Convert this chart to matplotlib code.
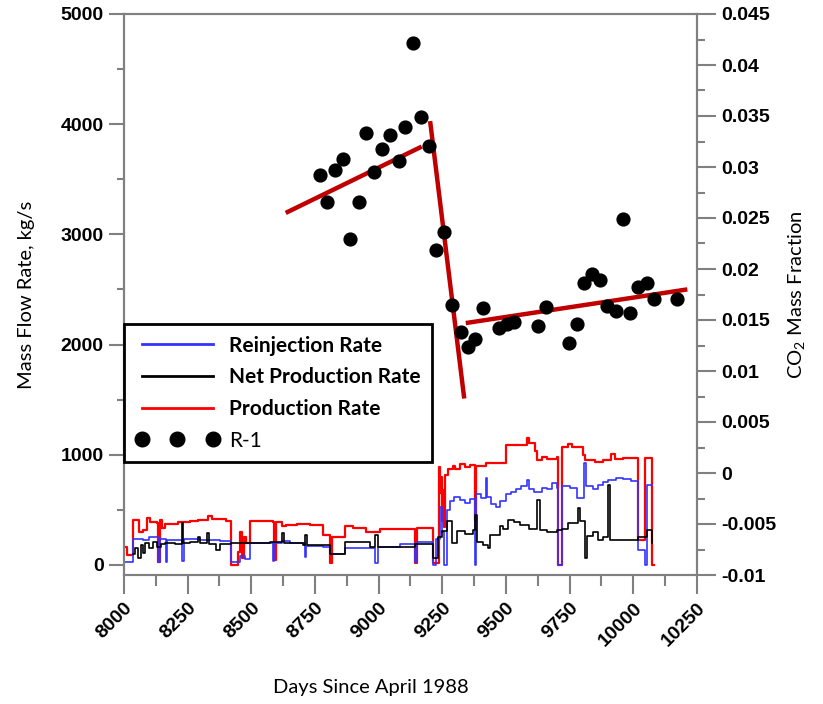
import numpy as np
import matplotlib.pyplot as plt
from matplotlib.ticker import MultipleLocator, FuncFormatter
from matplotlib.lines import Line2D

plt.rcParams['mathtext.default'] = 'regular'

# Production rate (kg/s), step data
prod_days = [8000, 8012, 8035, 8060, 8075, 8090, 8102, 8130, 8134, 8142, 8150, 8161,
             8212, 8260, 8291, 8330, 8345, 8365, 8400, 8420, 8448, 8455, 8462, 8470,
             8480, 8495, 8585, 8589, 8595, 8620, 8635, 8680, 8730, 8781, 8809, 8815,
             8868, 8900, 8950, 9005, 9143, 9150, 9213, 9235, 9240, 9245, 9250, 9253,
             9258, 9262, 9272, 9290, 9300, 9320, 9340, 9360, 9378, 9384, 9420, 9500,
             9583, 9590, 9614, 9622, 9640, 9661, 9700, 9704, 9718, 9744, 9759, 9802,
             9810, 9850, 9880, 9912, 9928, 9960, 10018, 10046, 10073, 10081]
prod_vals = [160, 90, 410, 300, 320, 430, 390, 380, 30, 410, 340, 370,
             390, 395, 410, 440, 420, 420, 395, 0, 120, 300, 60, 250,
             200, 395, 390, 45, 390, 350, 360, 370, 365, 270, 20, 250,
             355, 340, 300, 330, 20, 335, 20, 890, 650, 800, 400, 680,
             345, 820, 870, 900, 870, 920, 890, 910, 400, 900, 925, 1090,
             1155, 1110, 1030, 950, 980, 960, 980, 0, 1070, 1100, 1070, 1000,
             950, 930, 955, 1010, 960, 970, 230, 970, 0, 0]

# Reinjection rate (kg/s)
reinj_days = [8000, 8035, 8075, 8100, 8134, 8140, 8165, 8170, 8228, 8235, 8300, 8377,
              8420, 8455, 8475, 8495, 8585, 8590, 8620, 8650, 8711, 8716, 8781, 8809,
              8868, 8986, 8996, 9084, 9143, 9150, 9213, 9225, 9241, 9250, 9258, 9268,
              9280, 9295, 9320, 9340, 9360, 9378, 9384, 9400, 9420, 9425, 9440, 9460,
              9476, 9500, 9520, 9540, 9560, 9583, 9590, 9610, 9640, 9660, 9680, 9700,
              9704, 9720, 9750, 9779, 9805, 9815, 9840, 9860, 9880, 9901, 9930, 9960,
              9990, 10018, 10046, 10054, 10073]
reinj_vals = [30, 240, 230, 250, 25, 240, 25, 230, 40, 235, 230, 220,
              30, 80, 50, 200, 40, 200, 215, 200, 75, 170, 165, 100,
              150, 20, 165, 190, 30, 210, 0, 240, 530, 300, 0, 500,
              580, 620, 590, 560, 600, 0, 640, 610, 790, 620, 550, 530,
              580, 640, 660, 690, 720, 770, 690, 660, 700, 690, 745, 700,
              0, 720, 700, 610, 925, 720, 690, 730, 750, 770, 790, 780,
              760, 140, 0, 730, 730]

# Net production rate (kg/s)
net_days = [8035, 8043, 8055, 8065, 8075, 8082, 8100, 8115, 8130, 8145, 8160, 8200,
            8228, 8232, 8260, 8290, 8300, 8326, 8335, 8360, 8377, 8420, 8495, 8573,
            8620, 8630, 8703, 8711, 8720, 8809, 8868, 8966, 8986, 8996, 9143, 9213,
            9233, 9250, 9268, 9288, 9308, 9340, 9370, 9378, 9386, 9410, 9429, 9437,
            9476, 9490, 9508, 9530, 9555, 9590, 9622, 9634, 9660, 9700, 9720, 9744,
            9783, 9790, 9810, 9818, 9840, 9860, 9880, 9901, 9908, 9960, 10018, 10054,
            10073]
net_vals = [100, 150, 60, 180, 110, 200, 150, 210, 160, 190, 200, 190,
            380, 200, 210, 250, 200, 290, 190, 140, 190, 200, 200, 210,
            290, 200, 180, 270, 180, 100, 210, 160, 270, 160, 190, 60,
            250, 310, 400, 200, 310, 280, 320, 455, 210, 180, 155, 270,
            350, 330, 410, 390, 360, 330, 590, 320, 300, 320, 330, 380,
            520, 400, 65, 260, 300, 230, 250, 730, 225, 230, 255, 320,
            200]

# R-1 CO2 mass fraction
r1_days = [9134, 9166, 9103, 9045, 8950, 9013, 9197, 9079, 8982, 8860, 8830, 8770,
           8798, 8922, 8887, 9225, 9258, 9287, 9323, 9352, 9379, 9411, 9471, 9503,
           9533, 9624, 9656, 9747, 9778, 9807, 9837, 9869, 9898, 9931, 9958, 9987,
           10019, 10052, 10082, 10173]
r1_co2 = [0.0422, 0.0349, 0.0339, 0.0331, 0.0333, 0.0318, 0.0321, 0.0306, 0.0295, 0.0308,
          0.0297, 0.0292, 0.0266, 0.0266, 0.0229, 0.0219, 0.0236, 0.0165, 0.0138, 0.0124,
          0.0131, 0.0162, 0.0142, 0.0146, 0.0148, 0.0144, 0.0163, 0.0127, 0.0146, 0.0186,
          0.0195, 0.0189, 0.0164, 0.0159, 0.0249, 0.0157, 0.0182, 0.0186, 0.0171, 0.0171]

# trend segments (start/end day and CO2 value)
trend_days = [[8635, 9169], [9202, 9336], [9342, 10212]]
trend_co2 = [[0.0255, 0.0320], [0.0345, 0.0073], [0.0147, 0.0180]]

fig = plt.figure(figsize=(8.23, 7.04), dpi=100)
ax = fig.add_axes([124 / 823, 129 / 704, 573 / 823, 561 / 704])
ax2 = ax.twinx()

ax.plot(prod_days, prod_vals, color='#ff0000', lw=1.6, drawstyle='steps-post')
ax.plot(reinj_days, reinj_vals, color='#3333ff', lw=1.2, drawstyle='steps-post')
ax.plot(net_days, net_vals, color='black', lw=1.2, drawstyle='steps-post')

for d, c in zip(trend_days, trend_co2):
    ax2.plot(d, c, color='#c00000', lw=3.2, solid_capstyle='butt', zorder=2)
ax2.scatter(r1_days, r1_co2, s=85, color='black', zorder=3)

ax.set_xlim(8000, 10250)
ax.set_ylim(-91, 5000)
ax2.set_ylim(-0.01, 0.045)

gray = '#808080'
for a in (ax, ax2):
    for sp in a.spines.values():
        sp.set_color(gray)
        sp.set_linewidth(1.5)

ax.xaxis.set_major_locator(MultipleLocator(250))
ax.xaxis.set_minor_locator(MultipleLocator(125))
ax.yaxis.set_major_locator(MultipleLocator(1000))
ax.yaxis.set_minor_locator(MultipleLocator(500))
ax2.yaxis.set_major_locator(MultipleLocator(0.005))
ax2.yaxis.set_minor_locator(MultipleLocator(0.0025))
ax2.yaxis.set_major_formatter(FuncFormatter(lambda v, p: f'{round(v, 4):g}'))

ax.tick_params(axis='x', which='major', direction='out', length=14, width=1.5, color=gray, labelsize=14)
ax.tick_params(axis='x', which='minor', direction='out', length=8, width=1.5, color=gray)
ax.tick_params(axis='y', which='major', direction='out', length=11, width=1.5, color=gray, labelsize=14)
ax.tick_params(axis='y', which='minor', direction='out', length=5, width=1.5, color=gray)
ax2.tick_params(axis='y', which='major', direction='out', length=14, width=1.5, color=gray, labelsize=14)
ax2.tick_params(axis='y', which='minor', direction='out', length=6, width=1.5, color=gray)

for lbl in ax.get_xticklabels():
    lbl.set_rotation(45)
    lbl.set_ha('right')
    lbl.set_va('top')
    lbl.set_rotation_mode('anchor')
    lbl.set_fontweight('bold')
    lbl.set_family('Liberation Sans')
for lbl in ax.get_yticklabels() + ax2.get_yticklabels():
    lbl.set_fontweight('bold')
    lbl.set_family('Liberation Sans')

ax.set_xlabel('Days Since April 1988', fontsize=14.5, family='Lato')
ax.xaxis.set_label_coords(0.431, -0.185)
ax.set_ylabel('Mass Flow Rate, kg/s', fontsize=14.5, family='Lato')
ax.yaxis.set_label_coords(-0.155, 0.5)
ax2.set_ylabel('CO$_2$ Mass Fraction', fontsize=14.5, family='Lato')
ax2.yaxis.set_label_coords(1.155, 0.5)

handles = [Line2D([], [], color='#3333ff', lw=2),
           Line2D([], [], color='black', lw=2),
           Line2D([], [], color='#ff0000', lw=2),
           Line2D([], [], color='black', marker='o', ls='none', markersize=10.5)]
labels = ['Reinjection Rate', 'Net Production Rate', 'Production Rate', 'R-1']
leg = ax2.legend(handles, labels, loc='lower left', bbox_to_anchor=(0.0, 0.2014),
                 borderaxespad=0, fancybox=False, edgecolor='black', framealpha=1,
                 numpoints=3, handlelength=4.0, handletextpad=0.5, labelspacing=0.56,
                 borderpad=0.55, prop={'family': 'Lato', 'size': 15, 'weight': 'bold'})
leg.get_frame().set_linewidth(2)
leg.get_texts()[3].set_fontweight('normal')

fig.savefig('out.png', dpi=100)
